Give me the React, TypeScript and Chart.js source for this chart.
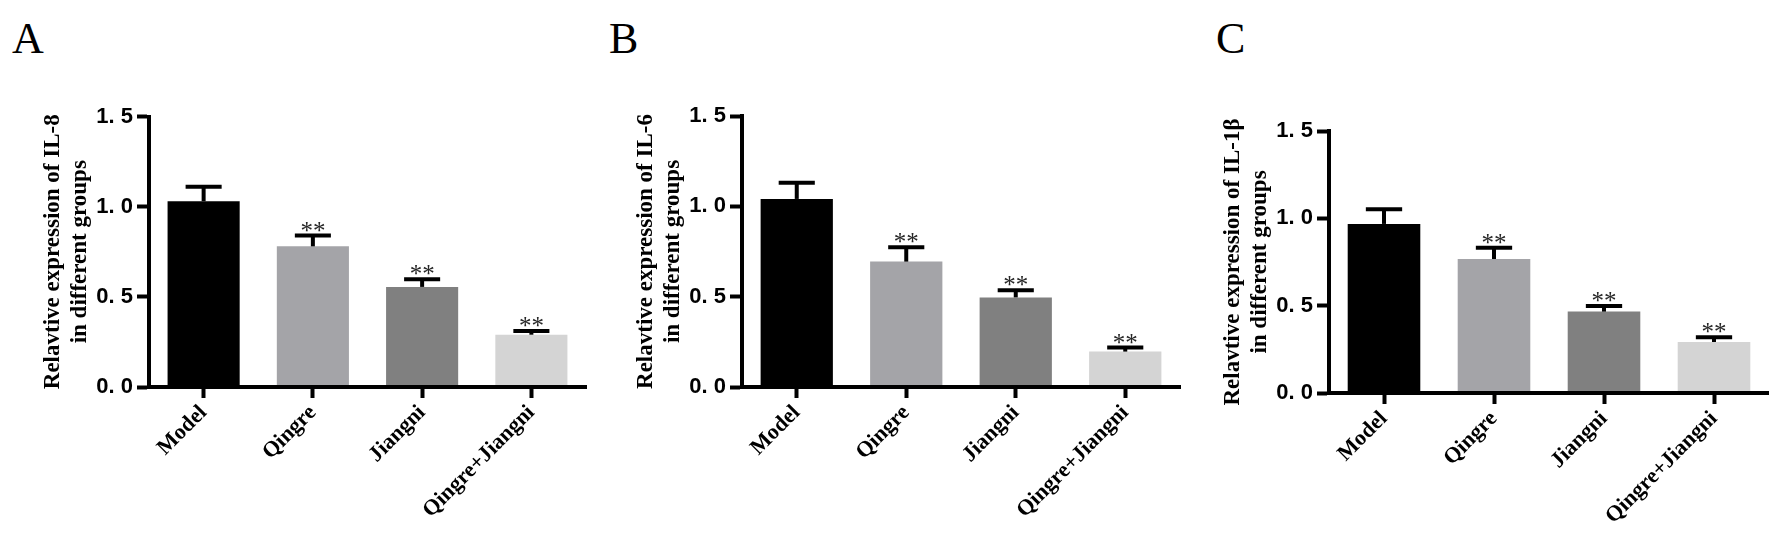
import React, { useEffect, useRef } from 'react';
import { Chart, registerables } from 'chart.js';

Chart.register(...registerables);

// ---------- data ----------
const categories = ['Model', 'Qingre', 'Jiangni', 'Qingre+Jiangni'];

const il8Values = [1.03, 0.78, 0.555, 0.29];
const il8Errors = [0.08, 0.06, 0.043, 0.02];

const il6Values = [1.041, 0.694, 0.496, 0.196];
const il6Errors = [0.089, 0.08, 0.039, 0.022];

const il1bValues = [0.968, 0.767, 0.466, 0.292];
const il1bErrors = [0.084, 0.065, 0.032, 0.027];

const significance = ['', '**', '**', '**'];

const yTickValues = [0, 0.5, 1.0, 1.5];
const yTickLabels = ['0. 0', '0. 5', '1. 0', '1. 5'];

const barColors = ['#000000', '#a4a4a8', '#808080', '#d4d4d4'];

const il8Title = ['Relavtive expression of IL-8', 'in different groups'];
const il6Title = ['Relavtive expression of IL-6', 'in different groups'];
const il1bTitle = ['Relavtive expression of IL-1β', 'in different groups'];

// ---------- layout ----------
const H = 535;
const panels = [
  { letter: 'A', letterLeft: 12, left: 0, width: 596, area: { left: 149, right: 586, top: 116.5, bottom: 387 }, title: il8Title, values: il8Values, errors: il8Errors },
  { letter: 'B', letterLeft: 609, left: 596, width: 590, area: { left: 146, right: 584, top: 116, bottom: 387 }, title: il6Title, values: il6Values, errors: il6Errors },
  { letter: 'C', letterLeft: 1216, left: 1186, width: 583, area: { left: 143, right: 583, top: 131, bottom: 393 }, title: il1bTitle, values: il1bValues, errors: il1bErrors },
];

const errorBarPlugin = {
  id: 'errorBars',
  afterDatasetsDraw(chart: any, _args: any, opts: any) {
    const { ctx, scales } = chart;
    const meta = chart.getDatasetMeta(0);
    const data = chart.data.datasets[0].data as number[];
    ctx.save();
    meta.data.forEach((bar: any, i: number) => {
      const err = opts.errors[i];
      const v = data[i];
      const x = bar.x;
      const yTop = bar.y;
      const yCap = scales.y.getPixelForValue(v + err);
      const half = bar.width / 4;
      ctx.strokeStyle = '#000';
      ctx.lineWidth = 4;
      ctx.lineCap = 'butt';
      ctx.beginPath();
      ctx.moveTo(x, yTop);
      ctx.lineTo(x, yCap);
      ctx.stroke();
      ctx.beginPath();
      ctx.moveTo(x - half, yCap);
      ctx.lineTo(x + half, yCap);
      ctx.stroke();
      const mark = opts.marks[i];
      if (mark) {
        ctx.fillStyle = '#262626';
        ctx.font = '25px "Liberation Serif"';
        ctx.textAlign = 'center';
        ctx.textBaseline = 'alphabetic';
        ctx.fillText(mark, x, yCap + 3);
      }
    });
    ctx.restore();
  },
};

function Panel({ cfg }: { cfg: any }) {
  const ref = useRef<HTMLCanvasElement>(null);
  useEffect(() => {
    const a = cfg.area;
    const chart = new Chart(ref.current as HTMLCanvasElement, {
      type: 'bar',
      data: {
        labels: categories,
        datasets: [
          {
            data: cfg.values,
            backgroundColor: barColors,
            borderWidth: 0,
            categoryPercentage: 1,
            barPercentage: 0.66,
          },
        ],
      },
      options: {
        responsive: false,
        animation: false,
        devicePixelRatio: 1,
        layout: { padding: { left: 0, top: a.top, right: cfg.width - a.right, bottom: 0 } },
        plugins: {
          legend: { display: false },
          tooltip: { enabled: false },
          // @ts-ignore
          errorBars: { errors: cfg.errors, marks: significance },
        },
        scales: {
          x: {
            type: 'category',
            offset: true,
            grid: {
              display: true,
              offset: false,
              drawOnChartArea: false,
              drawTicks: true,
              tickLength: 11,
              tickWidth: 4,
              tickColor: '#000',
              z: 1,
            },
            border: { display: true, width: 4, color: '#000', z: 1 },
            ticks: {
              autoSkip: false,
              maxRotation: 45,
              minRotation: 45,
              padding: 2,
              color: '#000',
              font: { family: '"Liberation Serif"', weight: 'bold', size: 22 },
            },
            afterFit: (s: any) => {
              s.height = H - a.bottom;
            },
          },
          y: {
            min: 0,
            max: 1.5,
            grid: {
              display: true,
              drawOnChartArea: false,
              drawTicks: true,
              tickLength: 12,
              tickWidth: 4,
              tickColor: '#000',
              z: 1,
            },
            border: { display: true, width: 4, color: '#000', z: 1 },
            ticks: {
              stepSize: 0.5,
              padding: 4,
              color: '#000',
              font: { family: '"Liberation Sans"', weight: 'bold', size: 22 },
              callback: (value: any) => {
                const idx = yTickValues.findIndex((t) => Math.abs(t - Number(value)) < 1e-6);
                return idx >= 0 ? yTickLabels[idx] : '';
              },
            },
            title: {
              display: true,
              text: cfg.title,
              color: '#000',
              font: { family: '"Liberation Serif"', weight: 'bold', size: 23, lineHeight: 1.17 },
              padding: { top: a.left - 96 - 13.5, bottom: 0 },
            },
            afterFit: (s: any) => {
              s.width = a.left;
            },
          },
        },
      },
      plugins: [errorBarPlugin as any],
    });
    return () => chart.destroy();
  }, [cfg]);
  return (
    <canvas
      ref={ref}
      width={cfg.width}
      height={H}
      style={{ position: 'absolute', left: cfg.left, top: 0, width: cfg.width, height: H }}
    />
  );
}

export default function App() {
  return (
    <div style={{ position: 'absolute', left: 0, top: 0, width: 1769, height: H, background: '#fff', overflow: 'hidden' }}>
      {panels.map((p) => (
        <div
          key={p.letter}
          style={{
            position: 'absolute',
            left: p.letterLeft,
            top: 17,
            fontFamily: '"Liberation Serif", serif',
            fontSize: 44,
            lineHeight: '44px',
            color: '#000',
          }}
        >
          {p.letter}
        </div>
      ))}
      {panels.map((p) => (
        <Panel key={p.letter + 'c'} cfg={p} />
      ))}
    </div>
  );
}
